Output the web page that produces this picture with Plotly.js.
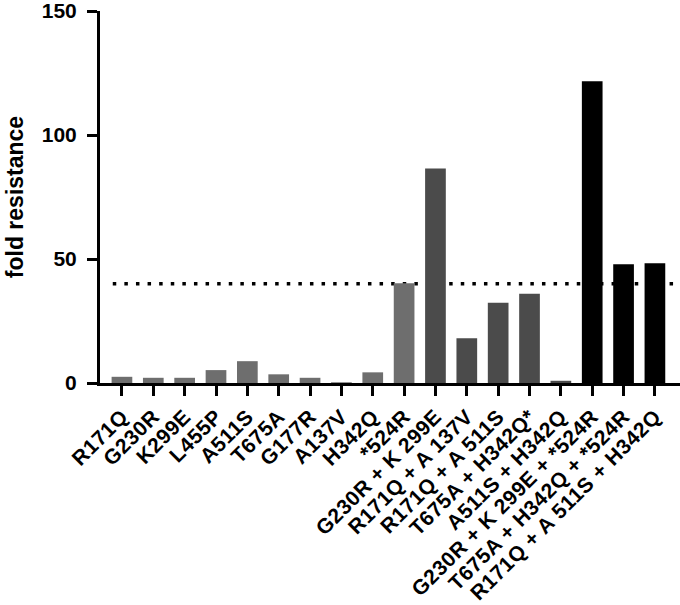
<!DOCTYPE html>
<html>
<head>
<meta charset="utf-8">
<script src="https://cdn.plot.ly/plotly-3.0.1.min.js"></script>
<style>
html,body{margin:0;padding:0;background:#fff;}
#chart{width:680px;height:605px;}
#chart .xtick text{letter-spacing:0.5px;}
</style>
</head>
<body>
<div id="chart"></div>
<script>
// Data
const mutants = [
  "R171Q", "G230R", "K299E", "L455P", "A511S", "T675A", "G177R", "A137V", "H342Q", "*524R",
  "G230R + K 299E", "R171Q + A 137V", "R171Q + A 511S", "T675A + H342Q*", "A511S + H342Q",
  "G230R + K 299E + *524R", "T675A + H342Q + *524R", "R171Q + A 511S + H342Q"
];
const foldResistance = [2.5, 2.1, 2.1, 5.2, 8.8, 3.5, 2.1, 0.3, 4.3, 40.2,
  86.5, 18.0, 32.4, 36.0, 0.9,
  121.7, 47.9, 48.3];
const mutationCount = [1, 1, 1, 1, 1, 1, 1, 1, 1, 1,
  2, 2, 2, 2, 2,
  3, 3, 3];
const threshold = 40;
const yTicks = [0, 50, 100, 150];

// Styles
const groupColor = {1: "#6e6e6e", 2: "#4b4b4b", 3: "#000000"};
const FONT = "Liberation Sans, Arial, Helvetica, sans-serif";

const trace = {
  type: "bar",
  x: mutants,
  y: foldResistance,
  marker: {color: mutationCount.map(c => groupColor[c]), line: {width: 0}},
  hoverinfo: "x+y"
};

const layout = {
  width: 680,
  height: 605,
  margin: {l: 100, r: 0, t: 11, b: 222, pad: 0},
  paper_bgcolor: "#fff",
  plot_bgcolor: "#fff",
  showlegend: false,
  bargap: 0.34,
  font: {family: FONT, color: "#000", weight: "bold"},
  xaxis: {
    type: "category",
    range: [-0.7, 17.8],
    showgrid: false,
    zeroline: false,
    showline: true,
    linecolor: "#000",
    linewidth: 3,
    ticks: "outside",
    ticklen: 10,
    tickwidth: 3,
    tickcolor: "#000",
    tickangle: -45,
    tickfont: {family: FONT, size: 21, color: "#000", weight: "bold"},
    fixedrange: true
  },
  yaxis: {
    range: [0, 150],
    tickvals: yTicks,
    ticktext: yTicks.map(String),
    showgrid: false,
    zeroline: false,
    showline: true,
    linecolor: "#000",
    linewidth: 3,
    ticks: "outside",
    ticklen: 10,
    tickwidth: 3,
    tickcolor: "#000",
    ticklabeloverflow: "allow",
    ticklabelstandoff: 6,
    tickfont: {family: FONT, size: 21, color: "#000", weight: "bold"},
    title: {text: "fold resistance", font: {family: FONT, size: 23, color: "#000", weight: "bold"}, standoff: 12},
    fixedrange: true
  },
  shapes: [{
    type: "line",
    layer: "below",
    xref: "paper",
    yref: "y",
    x0: 0.022,
    x1: 1,
    y0: threshold,
    y1: threshold,
    line: {color: "#000", width: 3.5, dash: "3.5px,8.1px"}
  }]
};

Plotly.newPlot("chart", [trace], layout, {displayModeBar: false, staticPlot: true});
</script>
</body>
</html>
